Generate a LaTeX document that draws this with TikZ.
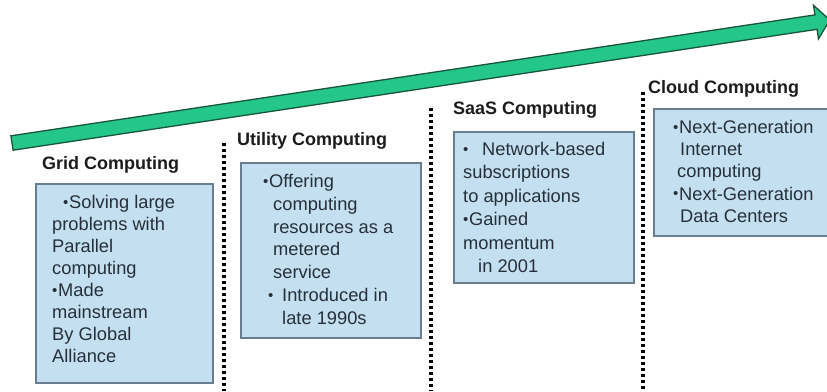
\documentclass[tikz,border=0pt]{standalone}
\usepackage{fontspec}
\setmainfont{Liberation Sans}

\definecolor{arrowfill}{RGB}{36,198,138}
\definecolor{arrowline}{RGB}{25,85,60}
\definecolor{boxfill}{RGB}{196,223,240}
\definecolor{boxline}{RGB}{105,125,140}
\definecolor{bodytext}{RGB}{38,48,58}
\definecolor{titletext}{RGB}{28,28,28}

% raised bullet of fixed width
\newcommand\bul{\makebox[6pt][l]{\raisebox{1.5pt}{\fontsize{15}{15}\selectfont •}}}

\begin{document}
\begin{tikzpicture}[x=1pt,y=-1pt,
  panel/.style={draw=boxline, line width=1.6pt, fill=boxfill, anchor=north west, inner sep=0pt},
  heading/.style={anchor=base west, inner sep=0pt, font=\fontsize{18}{22}\selectfont\bfseries, text=titletext},
  body/.style={anchor=base west, inner sep=0pt, text=bodytext, font=\fontsize{18.3}{#1}\selectfont},
  body/.default=22,
  divider/.style={line width=3.2pt, dash pattern=on 3pt off 3pt}]

\useasboundingbox (0,0) rectangle (827,391);
\clip (0,0) rectangle (827,391);

% rising timeline arrow
\filldraw[fill=arrowfill, draw=arrowline, line width=1.3pt, line join=miter]
  (10.9,135.8) -- (814.9,14.9) -- (813.5,5.3) -- (829.8,20.0)
  -- (818.5,38.9) -- (817.1,29.3) -- (13.1,150.2) -- cycle;

% dotted era separators
\draw[divider] (224,143) -- (224,391);
\draw[divider] (431,108) -- (431,391);
\draw[divider] (643,92) -- (643,391);

% era panels
\node[panel, minimum width=177pt, minimum height=199pt] (gridbox) at (35,183) {};
\node[panel, minimum width=180pt, minimum height=175pt] (utilbox) at (240,162) {};
\node[panel, minimum width=180pt, minimum height=151pt] (saasbox) at (453,131) {};
\node[panel, minimum width=190pt, minimum height=127pt] (cloudbox) at (653,108) {};

% headings
\node[heading] (gridtitle) at (42,169.3) {Grid Computing};
\node[heading] (utiltitle) at (237,145.5) {Utility Computing};
\node[heading] (saastitle) at (453,114.5) {SaaS Computing};
\node[heading] (cloudtitle) at (648,93.5) {Cloud Computing};

% panel texts
\node[body=22] (gridtext) at (52,208.5) {\begin{tabular}[t]{@{}l@{}}
\hspace*{11pt}\bul Solving large\\
problems with\\
Parallel\\
computing\\
\bul Made\\
mainstream\\
By Global\\
Alliance
\end{tabular}};

\node[body=22.8] (utiltext) at (263,187.5) {\begin{tabular}[t]{@{}l@{}}
\bul Offering\\
\hspace*{10pt}computing\\
\hspace*{10pt}resources as a\\
\hspace*{10pt}metered\\
\hspace*{10pt}service\\
\hspace*{5pt}\bul\hspace{8pt}Introduced in\\
\hspace*{19pt}late 1990s
\end{tabular}};

\node[body=23.4] (saastext) at (463,155.5) {\begin{tabular}[t]{@{}l@{}}
\bul\hspace{13pt}Network-based\\
subscriptions\\
to applications\\
\bul Gained\\
momentum\\
\hspace*{15pt}in 2001
\end{tabular}};

\node[body=22.2] (cloudtext) at (673,133.5) {\begin{tabular}[t]{@{}l@{}}
\bul Next-Generation\\
\hspace*{7pt}Internet\\
\hspace*{4pt}computing\\
\bul Next-Generation\\
\hspace*{7pt}Data Centers
\end{tabular}};

\end{tikzpicture}
\end{document}
